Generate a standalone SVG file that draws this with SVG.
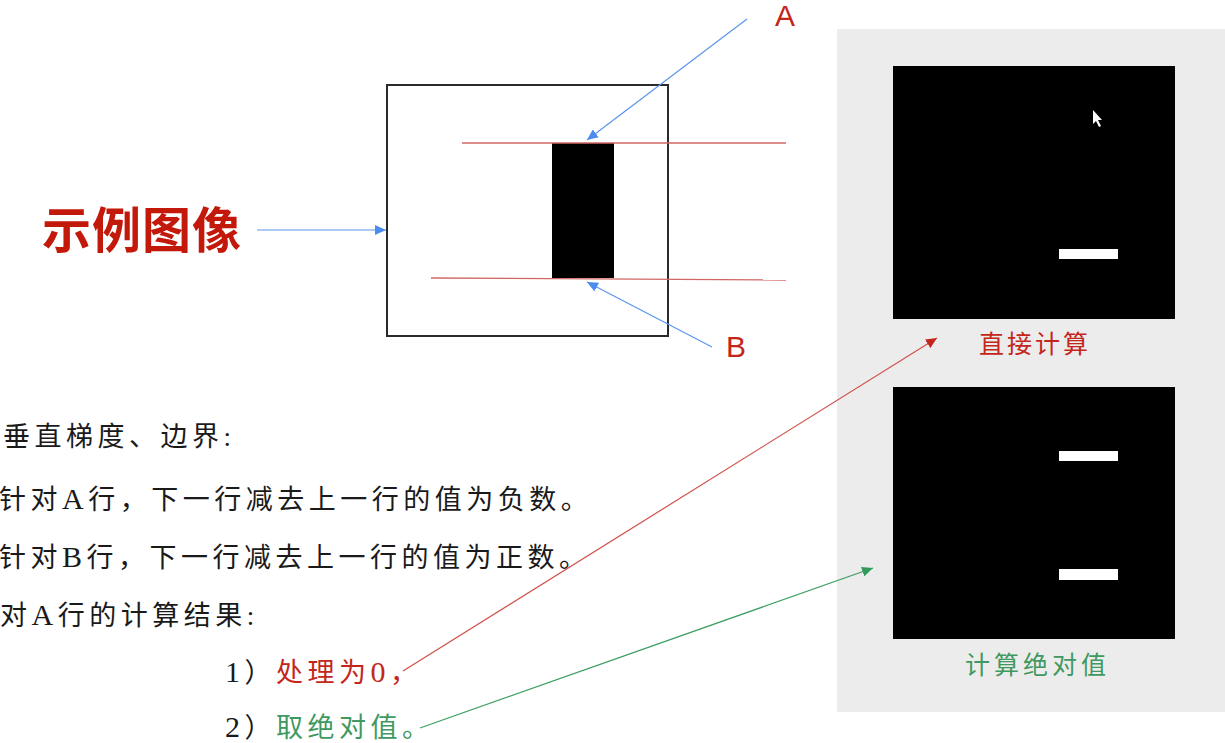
<svg xmlns="http://www.w3.org/2000/svg" width="1225" height="743" viewBox="0 0 1225 743">
<defs>
<style>
.body{font-family:"Liberation Serif","Noto Sans CJK SC",serif;font-size:27px;letter-spacing:4.5px;fill:#1a1a1a}
.lat{font-size:30px}
.red{fill:#c3261a}
.green{fill:#3f9960}
.lbl{font-family:"Liberation Sans","Noto Sans CJK SC",sans-serif;font-size:30px;fill:#c3261a}
.cap{font-family:"Liberation Serif","Noto Sans CJK SC",serif;font-size:25px}
.blue{stroke:#5a95ee;stroke-width:1.2;fill:none}
.rl{stroke:#d26666;stroke-width:1.3;fill:none}
</style>
<marker id="ab" markerUnits="userSpaceOnUse" markerWidth="12" markerHeight="10" refX="11" refY="5" orient="auto"><path d="M0,0 L11,5 L0,10 z" fill="#4a8cf0"/></marker>
<marker id="ar" markerUnits="userSpaceOnUse" markerWidth="12" markerHeight="10" refX="11" refY="5" orient="auto"><path d="M0,0 L11,5 L0,10 z" fill="#c3261a"/></marker>
<marker id="ag" markerUnits="userSpaceOnUse" markerWidth="12" markerHeight="10" refX="11" refY="5" orient="auto"><path d="M0,0 L11,5 L0,10 z" fill="#2f9a5a"/></marker>
</defs>
<rect width="1225" height="743" fill="#ffffff"/>

<g id="panel">
<rect x="837" y="29" width="388" height="683" fill="#ececec"/>
</g>

<g id="result-direct">
<rect x="893" y="66" width="282" height="253" fill="#000"/>
<rect x="1059" y="249" width="59" height="10" fill="#fff"/>
<polygon points="1093,110 1093,124 1096,121 1099,127 1101,126 1098,120 1102,120" fill="#fff"/>
<text class="cap red" x="979" y="353" letter-spacing="3">直接计算</text>
</g>

<g id="result-abs">
<rect x="893" y="387" width="282" height="252" fill="#000"/>
<rect x="1059" y="451" width="59" height="10" fill="#fff"/>
<rect x="1059" y="569" width="59" height="11" fill="#fff"/>
<text class="cap green" x="965" y="674" letter-spacing="4">计算绝对值</text>
</g>

<g id="title">
<text x="42" y="248" font-family="'Noto Sans CJK SC',sans-serif" font-size="49" font-weight="bold" letter-spacing="1" fill="#c3190b">示例图像</text>
</g>

<g id="sample-image">
<rect x="387" y="85" width="281" height="251" fill="#fff" stroke="#2a2a2a" stroke-width="2"/>
<rect x="552" y="143" width="62" height="135" fill="#000"/>
</g>

<g id="label-A"><text class="lbl" x="775" y="26">A</text></g>
<g id="label-B"><text class="lbl" x="726" y="357">B</text></g>

<g id="text-block">
<text class="body" x="3" y="446">垂直梯度、边界:</text>
<text class="body" x="-1" y="509">针对<tspan class="lat">A</tspan>行，下一行减去上一行的值为负数。</text>
<text class="body" x="-1" y="567">针对<tspan class="lat">B</tspan>行，下一行减去上一行的值为正数。</text>
<text class="body" x="0" y="625">对<tspan class="lat">A</tspan>行的计算结果:</text>
<text class="body" x="225" y="682"><tspan class="lat">1</tspan>）<tspan class="red">处理为<tspan class="lat">0</tspan>，</tspan></text>
<text class="body" x="225" y="737"><tspan class="lat">2</tspan>）<tspan class="green">取绝对值。</tspan></text>
</g>

<g id="connectors">
<line class="rl" x1="462" y1="143" x2="786" y2="143"/>
<line class="rl" x1="431" y1="278" x2="786" y2="280"/>
<line class="blue" x1="257" y1="230" x2="386" y2="230" marker-end="url(#ab)"/>
<line class="blue" x1="747" y1="19" x2="587" y2="140" marker-end="url(#ab)"/>
<line class="blue" x1="712" y1="347" x2="587" y2="282" marker-end="url(#ab)"/>
<line x1="403" y1="671" x2="937" y2="338" stroke="#d0524a" stroke-width="1.2" marker-end="url(#ar)"/>
<line x1="420" y1="728" x2="873" y2="568" stroke="#3d9e62" stroke-width="1.2" marker-end="url(#ag)"/>
</g>
</svg>
